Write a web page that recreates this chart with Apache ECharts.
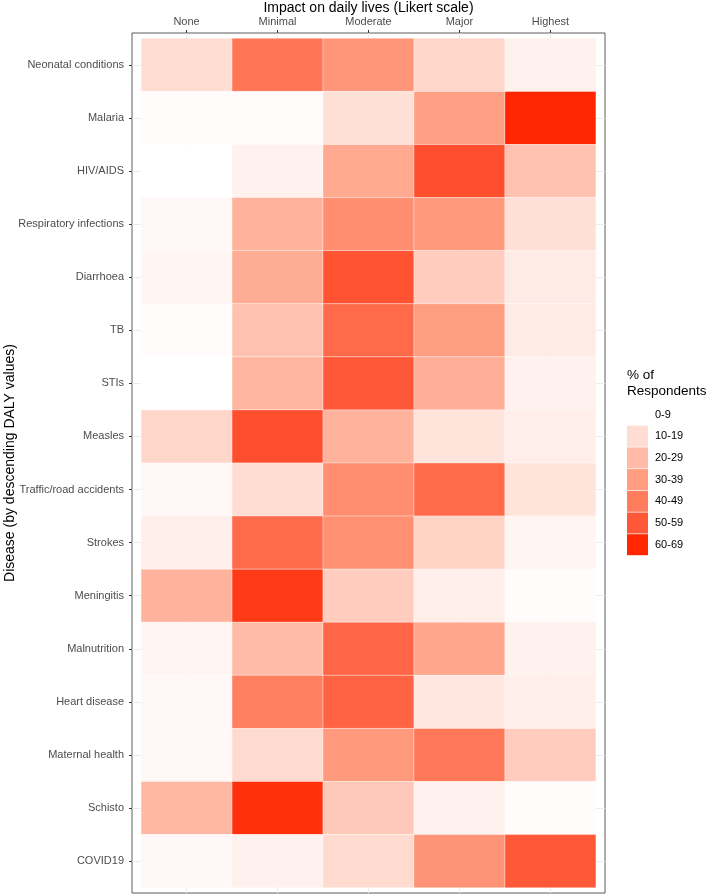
<!DOCTYPE html>
<html>
<head>
<meta charset="utf-8">
<script src="https://cdn.jsdelivr.net/npm/echarts@6/dist/echarts.min.js"></script>
<style>
html,body{margin:0;padding:0;background:#fff;}
#c{width:709px;height:895px;}
</style>
</head>
<body>
<div id="c"></div>
<script>
const impactLevels = ['None', 'Minimal', 'Moderate', 'Major', 'Highest'];
const diseases = ['Neonatal conditions', 'Malaria', 'HIV/AIDS', 'Respiratory infections', 'Diarrhoea', 'TB', 'STIs', 'Measles', 'Traffic/road accidents', 'Strokes', 'Meningitis', 'Malnutrition', 'Heart disease', 'Maternal health', 'Schisto', 'COVID19'];
const noneVals     = [10, 1, 0, 2, 3, 1, 0, 12, 2, 5, 23, 3, 2, 2, 21, 2];
const minimalVals  = [42, 1, 4, 23, 25, 18, 22, 52, 10, 45, 56, 20, 39, 11, 58, 4];
const moderateVals = [32, 9, 26, 35, 51, 45, 50, 23, 35, 34, 15, 46, 47, 31, 16, 11];
const majorVals    = [12, 29, 52, 31, 15, 30, 24, 8, 45, 13, 5, 27, 7, 41, 4, 33];
const highestVals  = [4, 60, 18, 9, 6, 6, 4, 5, 8, 3, 1, 4, 5, 15, 1, 50];
const legendLabels = ['0-9', '10-19', '20-29', '30-39', '40-49', '50-59', '60-69'];

const columns = [noneVals, minimalVals, moderateVals, majorVals, highestVals];
const data = [];
columns.forEach((col, xi) => {
  col.forEach((v, yi) => data.push([xi + 1, yi + 1, v]));
});

const scaleColors = ['#FFFFFF', '#FFDDD3', '#FFBBA8', '#FF9D80', '#FF7C5D', '#FF5838', '#FF2600'];
const pieces = legendLabels.map((lab, i) => ({ min: i * 10, max: i * 10 + 9, label: lab, color: scaleColors[i] }));

const font = 'Liberation Sans, Arial, Helvetica, sans-serif';
const chart = echarts.init(document.getElementById('c'), null, { renderer: 'canvas' });

function renderItem(params, api) {
  const c = api.coord([api.value(0), api.value(1)]);
  const s = api.size([1, 1]);
  return {
    type: 'rect',
    shape: { x: c[0] - s[0] / 2, y: c[1] - s[1] / 2, width: s[0], height: s[1] },
    style: { fill: api.visual('color'), stroke: 'rgba(255,255,255,0.55)', lineWidth: 0.6 }
  };
}

const xTicks = impactLevels.map((_, i) => i + 1);
const yTicks = diseases.map((_, i) => i + 1);

chart.setOption({
  backgroundColor: '#fff',
  animation: false,
  textStyle: { fontFamily: font },
  title: {
    text: '% of\nRespondents',
    left: 627, top: 367,
    textStyle: { fontFamily: font, fontSize: 13.5, fontWeight: 'normal', color: '#000', lineHeight: 16 },
    padding: 0
  },
  grid: {
    left: 132, right: 709 - 605, top: 33, bottom: 895 - 893,
    outerBoundsMode: 'none', containLabel: false,
    show: true, borderColor: '#333333', borderWidth: 0.8, backgroundColor: 'transparent'
  },
  xAxis: {
    type: 'value', position: 'top',
    min: 0.4, max: impactLevels.length + 0.6,
    name: 'Impact on daily lives (Likert scale)',
    nameLocation: 'middle', nameGap: 18, nameMoveOverlap: false,
    nameTextStyle: { fontFamily: font, fontSize: 14, color: '#000' },
    axisLine: { show: false },
    axisTick: { show: true, length: 3, lineStyle: { color: '#333333' }, customValues: xTicks },
    axisLabel: { fontFamily: font, fontSize: 11, color: '#4D4D4D', margin: 6, customValues: xTicks,
      formatter: v => impactLevels[Math.round(v) - 1] || '' },
    splitLine: { show: true, lineStyle: { color: '#EBEBEB', width: 1 } }
  },
  yAxis: {
    type: 'value', inverse: true,
    min: 0.4, max: diseases.length + 0.6,
    name: 'Disease (by descending DALY values)',
    nameLocation: 'middle', nameGap: 115, nameRotate: 90, nameMoveOverlap: false,
    nameTextStyle: { fontFamily: font, fontSize: 14, color: '#000' },
    axisLine: { show: false },
    axisTick: { show: true, length: 3, lineStyle: { color: '#333333' }, customValues: yTicks },
    axisLabel: { fontFamily: font, fontSize: 11, color: '#4D4D4D', margin: 8, customValues: yTicks,
      formatter: v => diseases[Math.round(v) - 1] || '' },
    splitLine: { show: true, lineStyle: { color: '#EBEBEB', width: 1 } }
  },
  visualMap: [
    {
      type: 'continuous', show: false, seriesIndex: 0, dimension: 2,
      min: 0, max: 60, inRange: { color: scaleColors }
    },
    {
      type: 'piecewise', seriesIndex: 1, dimension: 2,
      orient: 'vertical', inverse: true, align: 'left',
      left: 627, top: 404,
      itemWidth: 21, itemHeight: 21, itemGap: 0.7, itemSymbol: 'rect',
      textGap: 7, padding: 0, selectedMode: false,
      textStyle: { fontFamily: font, fontSize: 11, color: '#000' },
      pieces: pieces
    }
  ],
  series: [
    {
      type: 'custom', renderItem: renderItem,
      dimensions: ['impact', 'disease', 'pct'],
      encode: { x: 0, y: 1 },
      data: data
    },
    {
      type: 'custom', renderItem: () => null,
      dimensions: ['impact', 'disease', 'pct'],
      encode: { x: 0, y: 1 },
      data: []
    }
  ]
});
</script>
</body>
</html>
